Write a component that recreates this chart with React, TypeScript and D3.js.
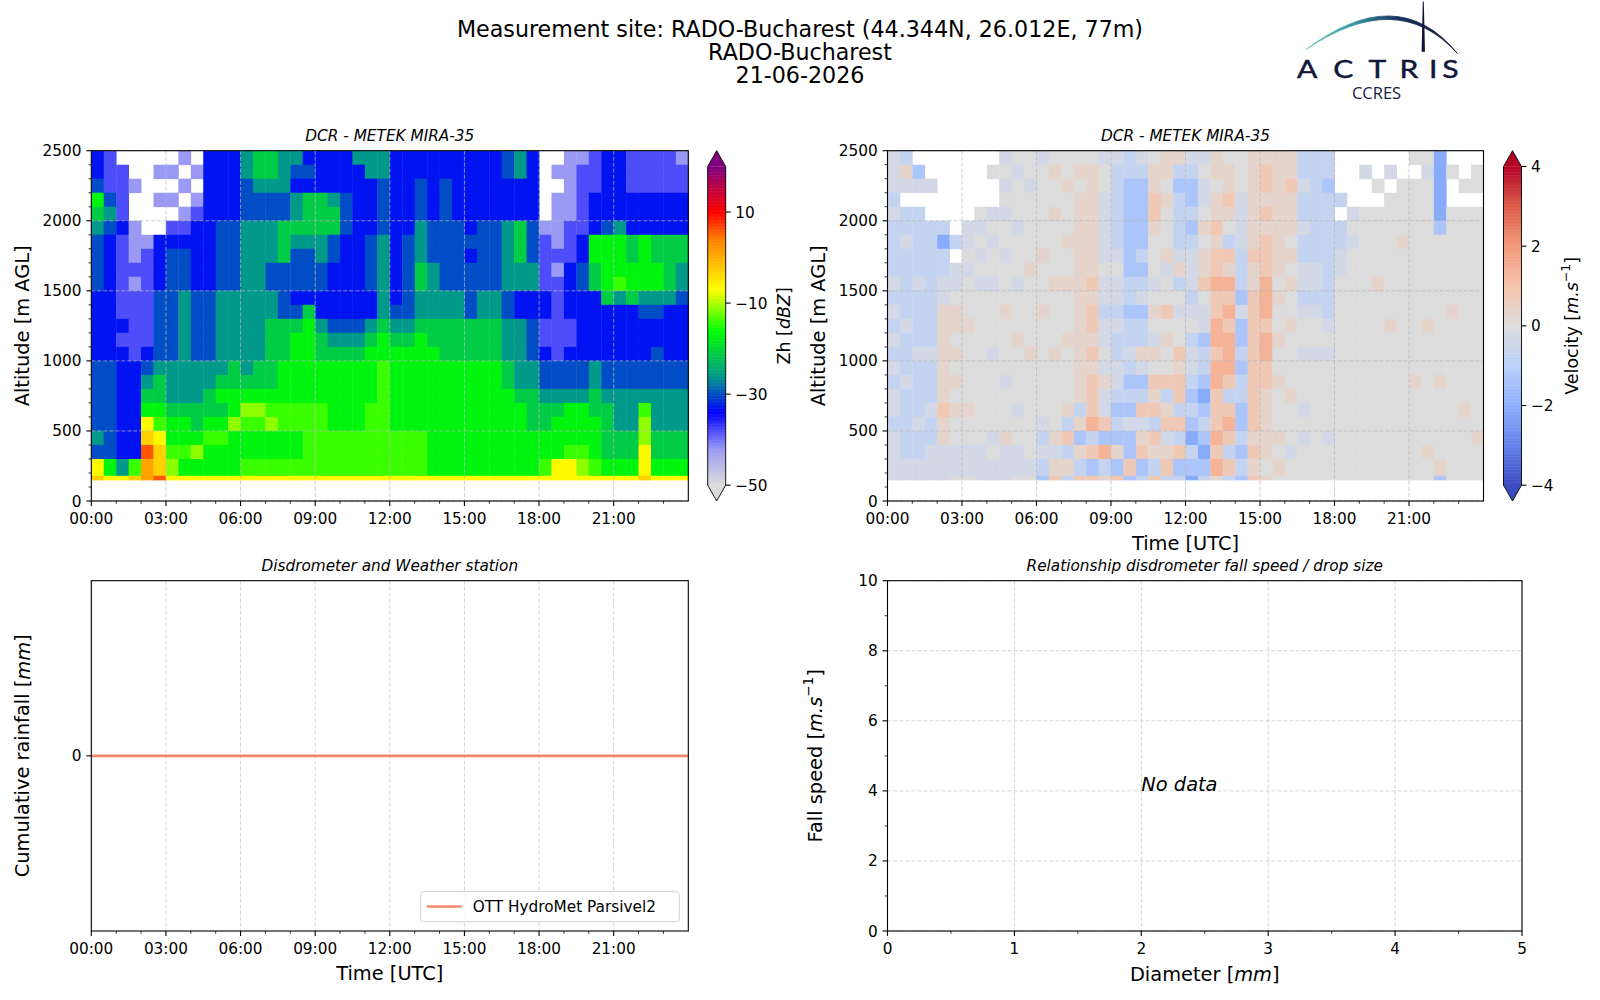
import React from "react";
import * as d3 from "d3";

const FONT = "'DejaVu Sans', sans-serif";

// ---------------- texts ----------------
const titleLines = [
  "Measurement site: RADO-Bucharest (44.344N, 26.012E, 77m)",
  "RADO-Bucharest",
  "21-06-2026",
];
const radarTitle = "DCR - METEK MIRA-35";
const rainTitle = "Disdrometer and Weather station";
const fallTitle = "Relationship disdrometer fall speed / drop size";
const legendLabel = "OTT HydroMet Parsivel2";

// ---------------- axes ticks ----------------
const timeTickHours = [0, 3, 6, 9, 12, 15, 18, 21];
const timeTickLabels = ["00:00", "03:00", "06:00", "09:00", "12:00", "15:00", "18:00", "21:00"];
const altTicks = [0, 500, 1000, 1500, 2000, 2500];
const zhTicks = [-50, -30, -10, 10];
const velTicks = [-4, -2, 0, 2, 4];
const diamTicks = [0, 1, 2, 3, 4, 5];
const speedTicks = [0, 2, 4, 6, 8, 10];
const rainTicks = [0];

// ---------------- radar data (profiles every 30 min, rows top -> bottom) ----------------
const profileStepHours = 0.5;
const altEdges = [2500, 2400, 2300, 2200, 2100, 2000, 1900, 1800, 1700, 1600, 1500, 1400, 1300, 1200, 1100, 1000, 900, 800, 700, 600, 500, 400, 300, 180, 150];

// reflectivity classes (dBZ), "_" = no signal
const zhCodes = "bcdefghijklmn";
const zhValues = [-42, -38, -33, -30, -26, -21, -17, -14, -11, -6.5, -3, 1, 6];
const zhProfiles = [
  "ddehgfeeeedddddeeeeefekl",
  "cccefedddddddddeeeeeeehk",
  "_ccccdccccccdcddddddddfk",
  "__b__bbbcbcccccdddddddil",
  "______bcccccccdefghklnmm",
  "_b_b__ddddeeeeefgghiklln",
  "_b_b_cdeeeeeeeefffghhijk",
  "b_b_bcdeeeffffffffghhihk",
  "_b_bcdddddeeeeefffgghjhk",
  "ddddddddddeeeeeffgghihhk",
  "dddddeeeeeffffffghghihhk",
  "dddddeeeeefffffgghhjhhhk",
  "ffeeefffffffffffghjihhik",
  "ggfeeffffffffffgghjihhik",
  "ggfeefffeeffggggghijhhik",
  "fffeegggeeeeggghhhiihhik",
  "fedffgfeeedeghhhhhiihhik",
  "dedgggfeeedghhhhhhiiiiik",
  "dddgggffeeddfgghhhiiiiik",
  "dddfggeeddddefghhhhhiiik",
  "dddeeeddddddefghhhhhiiik",
  "fdddddddddddefghhhhhiiik",
  "ffddddeeeeddfghhhhiiiiik",
  "ffeeeeffffffghhiiiiiiiik",
  "dddddddddddefghhhhhhiiik",
  "ddddddeeeeeefghhhhhhiiik",
  "ddeeefffggffghhhhhhhiiik",
  "dddddeeeffffgghhhhhhhhhk",
  "ddeeeeeeeeffggghhhhhhhhk",
  "dddddeeeeeffggghhhhhhhhk",
  "ddddddedeeeeggghhhhhhhhk",
  "dddddeeeeeffggghhhhhhhhk",
  "dddddeeeeeffggghhhhhhhhk",
  "eedddfffffeefffgghhhhhhk",
  "ffdddgggffddfffffghhhhhk",
  "dddddeeeffddeeeffggghhhk",
  "_____bccccddccdeefgghhik",
  "_b_bbbbcbcccccceefghhhkk",
  "bbbbbcccddddccdeefhhhikk",
  "bcccccddeedddddeefhhhijk",
  "cccdddhhggdddddffgghhhik",
  "dddddehhhhgddddeefgggghk",
  "dddddfhhhifddddeefffgghk",
  "cccdddgghhgddddeefffgghk",
  "cccdddhhhhfedddeefijjkkl",
  "cccdddgghhfeddeeefffgghk",
  "cccdddggggfddddeefffgghk",
  "bccdddggffeddddeefffgghk",
];

// Doppler velocity classes (m/s), "_" = no signal
const velCodes = "abcdefghij";
const velValues = [-3.5, -2.1, -1.3, -0.7, -0.3, 0, 0.35, 0.8, 1.4, 2.2];
const velProfiles = [
  "eeeded dddede dedede edeeee",
  "dge_dd eddddd eddded ddddee",
  "_ce_dd dddedd ddeddd deddee",
  "__e__d dddddd ddeddd eddeee",
  "_____d bddeeg gggggg hggeee",
  "______ d_eefg gfgfgf gffeef",
  "_____e efefff gfffff gffeef",
  "____fe fefeff ffffff fffeee",
  "_f__ef effeff ffefff ffefee",
  "efefef fefffg ffffef ffgeee",
  "fefffe fffeff fgffff effeef",
  "ffefff ffgfff ffgfff ffffef",
  "efffff fgfffg ffffff fededc",
  "fgffgf fffgff ffgfff ffgegh",
  "ffgfff gffgff fgffff gdhdgd",
  "fgfggg gggggg gggggg dgcgdh",
  "fggggg ggghgh hghghh hidhch",
  "effeee eefeed eefege ehcidg",
  "eddddd defeed eddeed cdcgch",
  "ddcccc cccddc ddedcd cecchc",
  "edcccc cdcdec ddgecd heghcd",
  "fgghhg fffefg fegfhg hdhgdh",
  "ggfgff fgeffh fgffhd gheghd",
  "gdcddd degdfe ffhghh dhdhcd",
  "edccdc deeede fdeedc dcbdcb",
  "efeefg fgghfe ecddcb cdcbcd",
  "ggfggh ghhihh iihiih hhihig",
  "fgghgf dhgihi hiiihd hihdhd",
  "fffeee edddce ccdcdd ccdcdc",
  "gggggg ghgghh hhhhhh hhghgh",
  "ghhghg hhhiii hiihhg ggggfg",
  "gggggg gggfgf fgffgf ffgfgf",
  "gghggg fgfgff gffffg fffeff",
  "ddedde ddeede ffefff efefff",
  "dddddd ddeede ffefff ffffff",
  "ddcddd dddddd efefff ffefff",
  "___d_d deefff ffffff ffffff",
  "____ef efffff ffffff ffffff",
  "_e__ff ffffff ffffff ffffff",
  "__f_ff fffgff ffffff ffffff",
  "_e_fff ffffff gfffff ffffff",
  "__ffff gfffff ffffff ffffff",
  "f_ffff ffffff ffffgf ffffff",
  "feffff ffffff gfffff fffgff",
  "bbbbbc ffffff ffffgf ffffgc",
  "_f__ff fffffg ffffff ffffff",
  "__f_ff ffffff ffffff gfffff",
  "_ff_ff ffffff ffffff ffgfff",
];

// ---------------- disdrometer ----------------
const rainHours = [0, 1, 2, 3, 4, 5, 6, 7, 8, 9, 10, 11, 12, 13, 14, 15, 16, 17, 18, 19, 20, 21, 22, 23, 24];
const rainCumulative = [0, 0, 0, 0, 0, 0, 0, 0, 0, 0, 0, 0, 0, 0, 0, 0, 0, 0, 0, 0, 0, 0, 0, 0, 0];

// ---------------- colour maps ----------------
const zhStops = [-50, -42, -34, -26, -16, -7, 4, 10, 14, 20];
const zhColors = ["#dcdcdc", "#9a9af4", "#0000ff", "#00998a", "#00ff00", "#ffff00", "#ff8000", "#ff0000", "#d00030", "#800080"];
const velStops = [-4, -3, -2, -1, 0, 1, 2, 3, 4];
const velColors = ["#3b4cc0", "#6282ea", "#8db0fe", "#b9d0f9", "#dddcdc", "#f5c4ac", "#f49a7b", "#dc5d4a", "#b40426"];

const zhColor = d3.scaleLinear<string>().domain(zhStops).range(zhColors).interpolate(d3.interpolateRgb).clamp(true);
const velColor = d3.scaleLinear<string>().domain(velStops).range(velColors).interpolate(d3.interpolateRgb).clamp(true);

const FS = { tick: 15.3, label: 19.4, title: 22.2, sub: 15.3, cbar: 17.5 };
const GRID_DARK = { stroke: "#b8b8b8", strokeOpacity: 0.8, strokeWidth: 0.9, strokeDasharray: "4,2" };
const GRID_LIGHT = { stroke: "#d0d0d0", strokeWidth: 0.9, strokeDasharray: "4,2" };
const RAIN_COLOR = "#f0896b";

type Box = { x0: number; x1: number; y0: number; y1: number };

function Heatmap({ profiles, codes, values, color, sx, sy }: any) {
  const cells: any[] = [];
  profiles.forEach((p: string, c: number) => {
    const s = p.replace(/\s/g, "");
    const xa = sx(c * profileStepHours);
    const xb = sx((c + 1) * profileStepHours);
    for (let r = 0; r < altEdges.length - 1; r++) {
      const ch = s[r];
      const idx = ch ? codes.indexOf(ch) : -1;
      if (idx < 0) continue;
      const ya = sy(altEdges[r]);
      const yb = sy(altEdges[r + 1]);
      cells.push(
        <rect key={`${c}-${r}`} x={xa} y={ya} width={xb - xa + 0.4} height={yb - ya + 0.4} fill={color(values[idx])} />
      );
    }
  });
  return <g>{cells}</g>;
}

function XAxis({ sx, y, ticks, labels, minor }: any) {
  return (
    <g>
      {minor.map((v: number) => (
        <line key={"m" + v} x1={sx(v)} x2={sx(v)} y1={y} y2={y + 2.8} stroke="#000" strokeWidth={0.8} />
      ))}
      {ticks.map((v: number, i: number) => (
        <g key={"t" + v}>
          <line x1={sx(v)} x2={sx(v)} y1={y} y2={y + 4.9} stroke="#000" strokeWidth={1.1} />
          <text x={sx(v)} y={y + 23} textAnchor="middle" fontSize={FS.tick}>{labels[i]}</text>
        </g>
      ))}
    </g>
  );
}

function YAxis({ sy, x, ticks, labels, minor }: any) {
  return (
    <g>
      {minor.map((v: number) => (
        <line key={"m" + v} x1={x - 2.8} x2={x} y1={sy(v)} y2={sy(v)} stroke="#000" strokeWidth={0.8} />
      ))}
      {ticks.map((v: number, i: number) => (
        <g key={"t" + v}>
          <line x1={x - 4.9} x2={x} y1={sy(v)} y2={sy(v)} stroke="#000" strokeWidth={1.1} />
          <text x={x - 9.8} y={sy(v) + 5.5} textAnchor="end" fontSize={FS.tick}>{labels[i]}</text>
        </g>
      ))}
    </g>
  );
}

function Colorbar({ x, y0, y1, domain, color, ticks, over, under }: any) {
  const w = 18;
  const ext = 15.8;
  const bTop = y0 + ext;
  const bBot = y1 - ext;
  const s = d3.scaleLinear().domain(domain).range([bBot, bTop]);
  const n = 220;
  const slices = d3.range(n).map((i) => {
    const v0 = domain[0] + ((domain[1] - domain[0]) * i) / n;
    const v1 = domain[0] + ((domain[1] - domain[0]) * (i + 1)) / n;
    return <rect key={i} x={x} y={s(v1)} width={w} height={s(v0) - s(v1) + 0.5} fill={color((v0 + v1) / 2)} />;
  });
  const outline = `M${x},${bTop} L${x + w / 2},${y0} L${x + w},${bTop} L${x + w},${bBot} L${x + w / 2},${y1} L${x},${bBot} Z`;
  return (
    <g>
      {slices}
      <polygon points={`${x},${bTop + 0.3} ${x + w / 2},${y0} ${x + w},${bTop + 0.3}`} fill={over} />
      <polygon points={`${x},${bBot - 0.3} ${x + w / 2},${y1} ${x + w},${bBot - 0.3}`} fill={under} />
      <path d={outline} fill="none" stroke="#000" strokeWidth={0.9} />
      {ticks.map((t: number) => (
        <g key={t}>
          <line x1={x + w} x2={x + w + 4.9} y1={s(t)} y2={s(t)} stroke="#000" strokeWidth={1.1} />
          <text x={x + w + 9.5} y={s(t) + 5.5} fontSize={FS.tick}>{t < 0 ? "\u2212" + Math.abs(t) : String(t)}</text>
        </g>
      ))}
    </g>
  );
}

function VLabel({ x, y, children, size }: any) {
  return (
    <text transform={`translate(${x},${y}) rotate(-90)`} textAnchor="middle" dominantBaseline="central" fontSize={size || FS.label}>
      {children}
    </text>
  );
}

export default function App() {
  const TL: Box = { x0: 91.3, x1: 688.3, y0: 150.7, y1: 501 };
  const TR: Box = { x0: 887.5, x1: 1483.5, y0: 150.7, y1: 501 };
  const BL: Box = { x0: 91.3, x1: 688.3, y0: 580.7, y1: 931 };
  const BR: Box = { x0: 887.5, x1: 1522, y0: 580.7, y1: 931 };

  const sxTL = d3.scaleLinear().domain([0, 24]).range([TL.x0, TL.x1]);
  const syTL = d3.scaleLinear().domain([0, 2500]).range([TL.y1, TL.y0]);
  const sxTR = d3.scaleLinear().domain([0, 24]).range([TR.x0, TR.x1]);
  const syTR = d3.scaleLinear().domain([0, 2500]).range([TR.y1, TR.y0]);
  const sxBL = d3.scaleLinear().domain([0, 24]).range([BL.x0, BL.x1]);
  const syBL = d3.scaleLinear().domain([-1, 1]).range([BL.y1, BL.y0]);
  const sxBR = d3.scaleLinear().domain([0, 5]).range([BR.x0, BR.x1]);
  const syBR = d3.scaleLinear().domain([0, 10]).range([BR.y1, BR.y0]);

  const hourMinor = d3.range(0, 24, 1).filter((h) => h % 3 !== 0);
  const altMinor = d3.range(0, 2501, 100).filter((a) => a % 500 !== 0);
  const altLabels = altTicks.map(String);

  const rainLine = d3
    .line<number>()
    .x((_, i) => sxBL(rainHours[i]))
    .y((d) => syBL(d))(rainCumulative) as string;

  const radarPanel = (box: Box, sx: any, sy: any, profiles: string[], codes: string, values: number[], color: any) => (
    <g>
      <Heatmap profiles={profiles} codes={codes} values={values} color={color} sx={sx} sy={sy} />
      {timeTickHours.map((h) => (
        <line key={"gx" + h} x1={sx(h)} x2={sx(h)} y1={box.y0} y2={box.y1} {...GRID_DARK} />
      ))}
      {altTicks.map((a) => (
        <line key={"gy" + a} x1={box.x0} x2={box.x1} y1={sy(a)} y2={sy(a)} {...GRID_DARK} />
      ))}
      <rect x={box.x0} y={box.y0} width={box.x1 - box.x0} height={box.y1 - box.y0} fill="none" stroke="#000" strokeWidth={1.1} />
      <XAxis sx={sx} y={box.y1} ticks={timeTickHours} labels={timeTickLabels} minor={hourMinor} />
      <YAxis sy={sy} x={box.x0} ticks={altTicks} labels={altLabels} minor={altMinor} />
      <text x={(box.x0 + box.x1) / 2} y={box.y0 - 9.5} textAnchor="middle" fontSize={FS.sub} fontStyle="italic">{radarTitle}</text>
    </g>
  );

  const logoLetters = ["A", "C", "T", "R", "I", "S"];
  const logoLetterX = [1307.3, 1343.3, 1377.3, 1409, 1433.3, 1450.5];

  return (
    <svg width={1600} height={1000} style={{ position: "absolute", left: 0, top: 0 }} fontFamily={FONT}>
      <rect x={0} y={0} width={1600} height={1000} fill="#fff" />

      {/* suptitle */}
      {titleLines.map((t, i) => (
        <text key={i} x={800} y={36.5 + i * 23} textAnchor="middle" fontSize={FS.title}>{t}</text>
      ))}

      {/* logo */}
      <defs>
        <linearGradient id="arcGrad" x1="1306" y1="0" x2="1457" y2="0" gradientUnits="userSpaceOnUse">
          <stop offset="0" stopColor="#6ac6c2" />
          <stop offset="0.3" stopColor="#3a9ea6" />
          <stop offset="0.6" stopColor="#1c3460" />
          <stop offset="1" stopColor="#0d1233" />
        </linearGradient>
      </defs>
      <path d="M1306,49.5 Q1398,-19.5 1457.5,53.5 Q1398,-12.5 1306,49.5 Z" fill="url(#arcGrad)" stroke="url(#arcGrad)" strokeWidth={0.8} />
      <polygon points="1422.8,1.5 1423.8,1.5 1425.0,51.7 1421.6,51.7" fill="#0f1436" />
      {logoLetters.map((ch, i) => (
        <text
          key={ch + i}
          transform={`translate(${logoLetterX[i]},78.4) scale(1.18,1)`}
          textAnchor="middle"
          fontSize={25.5}
          fontFamily="Lato, 'Noto Sans', sans-serif"
          fill="#10163a"
          stroke="#10163a"
          strokeWidth={0.45}
        >
          {ch}
        </text>
      ))}
      <text x={1376.5} y={99} textAnchor="middle" fontSize={16.5} fontFamily="'Open Sans', 'Noto Sans', sans-serif" fill="#1a2040">CCRES</text>

      {/* top-left: reflectivity */}
      {radarPanel(TL, sxTL, syTL, zhProfiles, zhCodes, zhValues, zhColor)}
      <VLabel x={22.5} y={(TL.y0 + TL.y1) / 2}>Altitude [m AGL]</VLabel>
      <Colorbar x={707.7} y0={TL.y0} y1={TL.y1} domain={[-50, 20]} color={zhColor} ticks={zhTicks} over="#800080" under="#dcdcdc" />
      <VLabel x={784.3} y={(TL.y0 + TL.y1) / 2} size={FS.cbar}>
        Zh [<tspan fontStyle="italic">dBZ</tspan>]
      </VLabel>

      {/* top-right: velocity */}
      {radarPanel(TR, sxTR, syTR, velProfiles, velCodes, velValues, velColor)}
      <VLabel x={818.5} y={(TR.y0 + TR.y1) / 2}>Altitude [m AGL]</VLabel>
      <text x={(TR.x0 + TR.x1) / 2} y={549.5} textAnchor="middle" fontSize={FS.label}>Time [UTC]</text>
      <Colorbar x={1503.5} y0={TR.y0} y1={TR.y1} domain={[-4, 4]} color={velColor} ticks={velTicks} over="#b40426" under="#3b4cc0" />
      <VLabel x={1572} y={(TR.y0 + TR.y1) / 2} size={FS.cbar}>
        Velocity [<tspan fontStyle="italic">m.s</tspan>
        <tspan dy={-7} fontSize={12.5}>{"\u22121"}</tspan>
        <tspan dy={7}>]</tspan>
      </VLabel>

      {/* bottom-left: cumulative rainfall */}
      <g>
        {timeTickHours.map((h) => (
          <line key={"bgx" + h} x1={sxBL(h)} x2={sxBL(h)} y1={BL.y0} y2={BL.y1} {...GRID_LIGHT} />
        ))}
        {rainTicks.map((v) => (
          <line key={"bgy" + v} x1={BL.x0} x2={BL.x1} y1={syBL(v)} y2={syBL(v)} {...GRID_LIGHT} />
        ))}
        <path d={rainLine} fill="none" stroke={RAIN_COLOR} strokeWidth={2.7} />
        <rect x={BL.x0} y={BL.y0} width={BL.x1 - BL.x0} height={BL.y1 - BL.y0} fill="none" stroke="#000" strokeWidth={1.1} />
        <XAxis sx={sxBL} y={BL.y1} ticks={timeTickHours} labels={timeTickLabels} minor={hourMinor} />
        <YAxis sy={syBL} x={BL.x0} ticks={rainTicks} labels={rainTicks.map(String)} minor={[]} />
        <text x={(BL.x0 + BL.x1) / 2} y={BL.y0 - 10} textAnchor="middle" fontSize={FS.sub} fontStyle="italic">{rainTitle}</text>
        <text x={(BL.x0 + BL.x1) / 2} y={979.5} textAnchor="middle" fontSize={FS.label}>Time [UTC]</text>
        <VLabel x={22.5} y={(BL.y0 + BL.y1) / 2}>
          Cumulative rainfall [<tspan fontStyle="italic">mm</tspan>]
        </VLabel>
        {/* legend */}
        <rect x={420.7} y={891.7} width={258.6} height={30} rx={3} fill="#fff" fillOpacity={0.8} stroke="#d0d0d0" strokeWidth={1} />
        <line x1={426.7} x2={461.7} y1={906.5} y2={906.5} stroke={RAIN_COLOR} strokeWidth={2.7} />
        <text x={472.7} y={912} fontSize={FS.tick}>{legendLabel}</text>
      </g>

      {/* bottom-right: fall speed vs diameter */}
      <g>
        {diamTicks.map((v) => (
          <line key={"rgx" + v} x1={sxBR(v)} x2={sxBR(v)} y1={BR.y0} y2={BR.y1} {...GRID_LIGHT} />
        ))}
        {speedTicks.map((v) => (
          <line key={"rgy" + v} x1={BR.x0} x2={BR.x1} y1={syBR(v)} y2={syBR(v)} {...GRID_LIGHT} />
        ))}
        <rect x={BR.x0} y={BR.y0} width={BR.x1 - BR.x0} height={BR.y1 - BR.y0} fill="none" stroke="#000" strokeWidth={1.1} />
        <XAxis sx={sxBR} y={BR.y1} ticks={diamTicks} labels={diamTicks.map(String)} minor={d3.range(0.5, 5, 1)} />
        <YAxis sy={syBR} x={BR.x0} ticks={speedTicks} labels={speedTicks.map(String)} minor={d3.range(1, 10, 2)} />
        <text x={sxBR(2)} y={syBR(4)} fontSize={FS.label} fontStyle="italic">No data</text>
        <text x={(BR.x0 + BR.x1) / 2} y={BR.y0 - 10} textAnchor="middle" fontSize={FS.sub} fontStyle="italic">{fallTitle}</text>
        <text x={(BR.x0 + BR.x1) / 2} y={980.5} textAnchor="middle" fontSize={FS.label}>
          Diameter [<tspan fontStyle="italic">mm</tspan>]
        </text>
        <VLabel x={815} y={(BR.y0 + BR.y1) / 2}>
          Fall speed [<tspan fontStyle="italic">m.s</tspan>
          <tspan dy={-7} fontSize={13.5}>{"\u22121"}</tspan>
          <tspan dy={7}>]</tspan>
        </VLabel>
      </g>
    </svg>
  );
}
